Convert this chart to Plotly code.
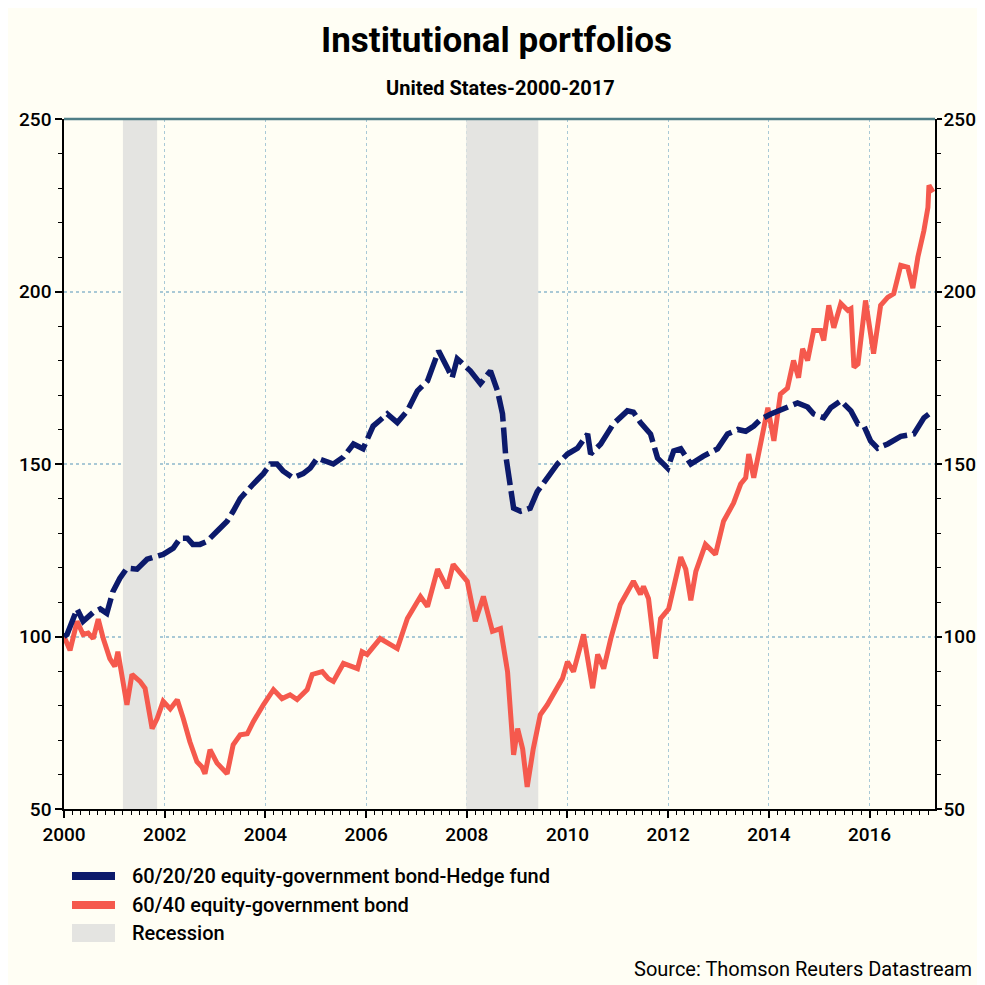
import plotly.graph_objects as go

# ---------------- data ----------------
series_names = ["60/20/20 equity-government bond-Hedge fund",
                "60/40 equity-government bond",
                "Recession"]

hedge_t = [2000.00, 2000.06, 2000.26, 2000.38, 2000.58, 2000.72, 2000.85, 2000.97,
           2001.11, 2001.25, 2001.45, 2001.65, 2001.85, 2001.97, 2002.17, 2002.31,
           2002.45, 2002.56, 2002.70, 2002.84, 2003.04, 2003.24, 2003.36, 2003.50,
           2003.76, 2003.96, 2004.10, 2004.23, 2004.35, 2004.55, 2004.75, 2004.89,
           2005.03, 2005.19, 2005.35, 2005.55, 2005.75, 2005.94, 2006.14, 2006.42,
           2006.62, 2006.82, 2007.02, 2007.22, 2007.44, 2007.61, 2007.71, 2007.81,
           2007.93, 2008.07, 2008.27, 2008.47, 2008.61, 2008.71, 2008.77, 2008.87,
           2008.93, 2009.07, 2009.26, 2009.40, 2009.60, 2009.80, 2010.00, 2010.20,
           2010.40, 2010.46, 2010.66, 2010.91, 2011.19, 2011.31, 2011.45, 2011.65,
           2011.79, 2011.99, 2012.11, 2012.25, 2012.45, 2012.70, 2012.98, 2013.18,
           2013.38, 2013.54, 2013.70, 2013.84, 2014.04, 2014.37, 2014.57, 2014.77,
           2014.89, 2015.09, 2015.23, 2015.43, 2015.63, 2015.77, 2015.89, 2016.02,
           2016.16, 2016.36, 2016.62, 2016.88, 2017.08, 2017.26]
hedge_v = [100.0, 100.6, 108.0, 104.4, 107.0, 108.0, 106.7, 113.0,
           116.9, 119.8, 119.5, 122.4, 123.3, 123.8, 125.6, 128.5,
           128.5, 126.7, 126.7, 127.6, 130.5, 133.4, 136.3, 140.0,
           144.2, 147.2, 150.0, 150.0, 148.0, 146.0, 147.2, 148.8,
           151.7, 150.9, 150.0, 152.0, 155.8, 154.4, 161.0, 164.5,
           162.0, 165.4, 171.2, 174.1, 182.8, 178.0, 175.0, 180.5,
           179.0, 177.0, 173.3, 177.0, 171.2, 164.5, 152.9, 142.0,
           137.2, 136.3, 137.2, 142.0, 146.0, 150.0, 152.9, 154.6,
           158.7, 152.9, 155.8, 161.6, 165.4, 165.0, 162.0, 158.7,
           151.7, 148.8, 153.8, 154.4, 150.0, 152.3, 154.4, 158.7,
           160.0, 159.5, 161.0, 163.0, 164.5, 166.3, 167.7, 166.5,
           164.5, 163.4, 166.3, 168.3, 165.4, 161.6, 161.0, 156.7,
           154.6, 155.8, 158.0, 158.7, 163.4, 165.4]

bond_t = [2000.00, 2000.12, 2000.26, 2000.38, 2000.48, 2000.58, 2000.68, 2000.78,
          2000.91, 2001.01, 2001.07, 2001.17, 2001.25, 2001.35, 2001.51, 2001.61,
          2001.75, 2001.85, 2001.97, 2002.11, 2002.25, 2002.37, 2002.50, 2002.64,
          2002.74, 2002.80, 2002.90, 2003.04, 2003.16, 2003.24, 2003.36, 2003.50,
          2003.64, 2003.76, 2003.96, 2004.16, 2004.33, 2004.49, 2004.63, 2004.83,
          2004.93, 2005.13, 2005.25, 2005.35, 2005.55, 2005.83, 2005.92, 2006.02,
          2006.28, 2006.48, 2006.62, 2006.82, 2007.08, 2007.22, 2007.42, 2007.61,
          2007.73, 2008.01, 2008.17, 2008.33, 2008.51, 2008.67, 2008.81, 2008.93,
          2009.01, 2009.11, 2009.20, 2009.32, 2009.46, 2009.60, 2009.72, 2009.90,
          2010.00, 2010.12, 2010.32, 2010.50, 2010.60, 2010.72, 2010.86, 2011.05,
          2011.31, 2011.45, 2011.51, 2011.61, 2011.75, 2011.85, 2012.01, 2012.25,
          2012.35, 2012.45, 2012.55, 2012.74, 2012.94, 2013.10, 2013.30, 2013.44,
          2013.54, 2013.60, 2013.70, 2013.84, 2013.98, 2014.10, 2014.23, 2014.37,
          2014.49, 2014.59, 2014.67, 2014.77, 2014.89, 2015.03, 2015.09, 2015.19,
          2015.29, 2015.43, 2015.57, 2015.63, 2015.69, 2015.77, 2015.92, 2016.08,
          2016.22, 2016.36, 2016.48, 2016.62, 2016.76, 2016.86, 2016.96, 2017.08,
          2017.16, 2017.18, 2017.26]
bond_v = [100.0, 96.0, 104.4, 100.6, 101.0, 99.4, 105.0, 99.4,
          93.6, 91.3, 95.6, 87.0, 80.2, 89.0, 87.0, 85.0,
          73.3, 76.2, 81.2, 79.0, 81.7, 76.2, 69.5, 63.7,
          62.2, 60.2, 67.2, 63.3, 61.4, 60.2, 68.6, 71.5,
          71.8, 75.3, 80.2, 84.6, 82.0, 83.1, 81.7, 84.6,
          89.0, 89.8, 87.8, 87.0, 92.2, 90.7, 95.6, 94.8,
          99.4, 97.7, 96.5, 105.2, 111.6, 108.7, 119.5, 114.0,
          120.9, 116.0, 104.4, 111.6, 101.5, 102.3, 89.8, 65.7,
          73.3, 67.4, 56.4, 67.4, 77.3, 80.2, 83.1, 87.8,
          92.7, 89.8, 100.6, 85.0, 94.8, 90.7, 99.4, 109.3,
          116.0, 112.2, 114.5, 111.0, 93.6, 105.2, 108.0, 123.0,
          119.5, 110.5, 118.9, 126.7, 123.8, 133.4, 138.7, 144.2,
          146.0, 152.9, 146.0, 156.7, 166.3, 156.7, 170.3, 172.0,
          180.0, 175.0, 183.4, 180.0, 188.7, 188.7, 185.8, 196.0,
          189.5, 196.5, 194.5, 195.0, 178.0, 179.0, 197.4, 182.0,
          196.0, 198.3, 199.4, 207.6, 207.0, 201.0, 210.0, 217.7,
          224.4, 230.8, 228.8]

recession_start = [2001.17, 2007.99]
recession_end = [2001.85, 2009.42]

y_range = [50, 250]
x_range = [2000.0, 2017.3]
x_tick_vals = [2000, 2002, 2004, 2006, 2008, 2010, 2012, 2014, 2016]
x_tick_text = [str(v) for v in x_tick_vals]
y_tick_vals = [50, 100, 150, 200, 250]

# ---------------- styling ----------------
BG = "#FFFEF4"
BLUE = "#0C1A6B"
RED = "#F5594D"
GREY = "#E4E4E1"
GRID = "#A9C9D6"
FONT = "Roboto, Liberation Sans, sans-serif"

# page has an 8px body margin; layout numbers below are in figure pixels
OFF = 8
plot_left, plot_top, plot_w, plot_h = 64 - OFF, 119 - OFF, 871, 690
W = H = 985 - OFF


def px(xp):  # page x pixel -> paper x
    return (xp - OFF - plot_left) / plot_w


def py(yp):  # page y pixel -> paper y
    return (plot_top + plot_h - (yp - OFF)) / plot_h


rx, ry = [], []
for s, e in zip(recession_start, recession_end):
    rx += [s, s, e, e, s, None]
    ry += [y_range[0], y_range[1], y_range[1], y_range[0], y_range[0], None]

fig = go.Figure()
fig.add_trace(go.Scatter(x=rx, y=ry, mode="lines", fill="toself", fillcolor=GREY,
                         line=dict(width=0, color=GREY), name=series_names[2],
                         showlegend=False, hoverinfo="skip"))
fig.add_trace(go.Scatter(x=bond_t, y=bond_v, mode="lines", name=series_names[1],
                         line=dict(color=RED, width=5), showlegend=False))
# hedge-fund portfolio is drawn against the right-hand axis (same scale)
fig.add_trace(go.Scatter(x=hedge_t, y=hedge_v, mode="lines", name=series_names[0],
                         yaxis="y2",
                         line=dict(color=BLUE, width=5.5, dash="26px,6px"),
                         showlegend=False))

axis_common = dict(
    showline=True, linecolor="black", linewidth=1.5,
    ticks="outside", tickwidth=1.5, tickcolor="black",
    tickfont=dict(family=FONT, size=19, color="black", weight=500),
    automargin=False,
)

fig.update_layout(
    width=W, height=H,
    paper_bgcolor=BG, plot_bgcolor=BG,
    margin=dict(l=plot_left, r=W - plot_left - plot_w, t=plot_top,
                b=H - plot_top - plot_h),
    showlegend=False,
    xaxis=dict(range=x_range, tickvals=x_tick_vals, ticktext=x_tick_text,
               showgrid=True, gridcolor=GRID, griddash="dot", gridwidth=1,
               zeroline=False, ticklen=7,
               minor=dict(dtick=1 / 6, tick0=2000, ticks="outside", ticklen=4,
                          tickcolor="black", tickwidth=1.2, showgrid=False),
               **axis_common),
    yaxis=dict(range=y_range, tickvals=y_tick_vals, showgrid=True, gridcolor=GRID,
               griddash="dot", gridwidth=1.5, zeroline=False, ticklen=7,
               minor=dict(dtick=10, tick0=50, ticks="outside", ticklen=4,
                          tickcolor="black", tickwidth=1.2, showgrid=False),
               **axis_common),
    yaxis2=dict(range=y_range, tickvals=y_tick_vals, overlaying="y", side="right",
                showgrid=False, zeroline=False, ticklen=5, ticklabelstandoff=-2,
                minor=dict(dtick=10, tick0=50, ticks="outside", ticklen=4,
                           tickcolor="black", tickwidth=1.2, showgrid=False),
                **axis_common),
)

# top border line (dark teal)
fig.add_shape(type="line", xref="paper", yref="paper", x0=0, x1=1, y0=1, y1=1,
              line=dict(color="#4E7E86", width=2.5))

# titles
fig.add_annotation(text="<b>Institutional portfolios</b>", xref="paper", yref="paper",
                   x=px(496), y=py(40), xanchor="center", yanchor="middle",
                   showarrow=False, font=dict(family=FONT, size=35, color="black"))
fig.add_annotation(text="<b>United States-2000-2017</b>", xref="paper", yref="paper",
                   x=px(500), y=py(88), xanchor="center", yanchor="middle",
                   showarrow=False, font=dict(family=FONT, size=20, color="black"))

# manual legend
legend_colors = [BLUE, RED, GREY]
legend_heights = [8, 8, 18]
legend_y_px = [876, 905, 933]
for name, col, h, ypx in zip(series_names, legend_colors, legend_heights, legend_y_px):
    yc = py(ypx)
    fig.add_shape(type="rect", xref="paper", yref="paper", x0=px(72), x1=px(115),
                  y0=yc - h / 2 / plot_h, y1=yc + h / 2 / plot_h,
                  fillcolor=col, line=dict(width=0))
    fig.add_annotation(text=name, xref="paper", yref="paper",
                       x=px(130), y=yc, xanchor="left",
                       yanchor="middle", showarrow=False,
                       font=dict(family=FONT, size=20, color="black", weight=500))

fig.add_annotation(text="Source: Thomson Reuters Datastream", xref="paper", yref="paper",
                   x=px(974), y=py(969), xanchor="right", yanchor="middle",
                   showarrow=False, font=dict(family=FONT, size=20, color="black"))

fig.write_html("out.html")
